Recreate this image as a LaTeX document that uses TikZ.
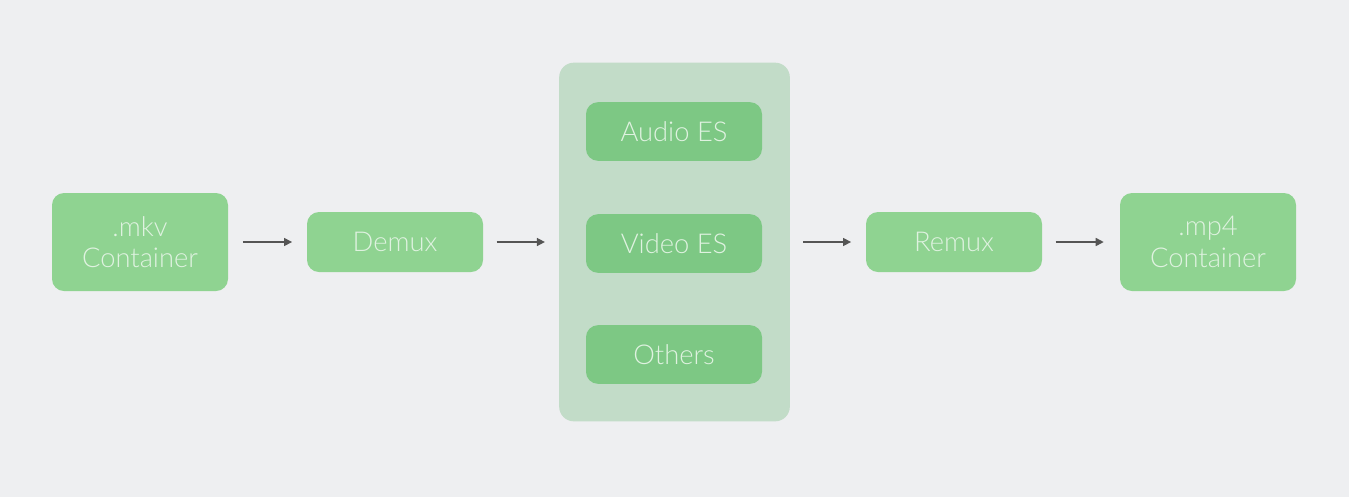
\documentclass[tikz,border=0pt]{standalone}
\usepackage{fontspec}
\setmainfont{Lato Light}
\usetikzlibrary{arrows.meta}
\definecolor{bg}{HTML}{EEEFF1}
\definecolor{boxg}{HTML}{8FD391}
\definecolor{groupg}{HTML}{C2DCC8}
\definecolor{innerg}{HTML}{7DC884}
\definecolor{txt}{HTML}{DFF2E0}
\definecolor{arr}{HTML}{555555}
\tikzset{
  greenbox/.style={draw=none, fill=boxg, rounded corners=9pt, minimum width=132pt, text=txt, align=center, font=\fontsize{20.5}{23.5}\selectfont, inner sep=0pt},
  tallbox/.style={greenbox, minimum height=73.5pt},
  shortbox/.style={greenbox, minimum height=45pt},
  innerbox/.style={greenbox, fill=innerg, minimum height=44pt},
  grp/.style={draw=none, fill=groupg, rounded corners=11pt, minimum width=173pt, minimum height=269pt, inner sep=0pt},
  flow/.style={draw=arr, line width=1.1pt, -{Triangle[length=6pt,width=6pt]}},
}
\begin{document}
\begin{tikzpicture}[x=0.75pt,y=-0.75pt]
\fill[bg] (0,0) rectangle (1349,497);
\useasboundingbox (0,0) rectangle (1349,497);
\node[tallbox] (mkv) at (140,242) {.mkv\\Container};
\node[shortbox] (demux) at (395,242) {Demux};
\node[grp] (group) at (674.5,242) {};
\node[innerbox] (audio) at (674,131.5) {Audio ES};
\node[innerbox] (video) at (674,243.5) {Video ES};
\node[innerbox] (others) at (674,354.5) {Others};
\node[shortbox] (remux) at (954,242) {Remux};
\node[tallbox] (mp4) at (1208,242) {.mp4\\Container};
\draw[flow] ([xshift=11pt]mkv.east) -- ([xshift=-11pt]demux.west);
\draw[flow] ([xshift=10pt]demux.east) -- ([xshift=-10.5pt]group.west);
\draw[flow] ([xshift=10pt]group.east) -- ([xshift=-11pt]remux.west);
\draw[flow] ([xshift=10pt]remux.east) -- ([xshift=-12pt]mp4.west);
\end{tikzpicture}
\end{document}
